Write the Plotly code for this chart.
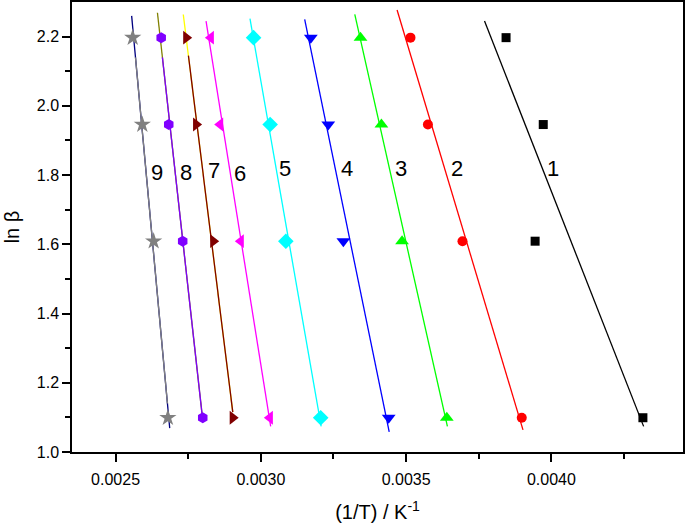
import numpy as np
import plotly.graph_objects as go

# ln(beta) rows (beta = 9, 7, 5, 3 K/min)
ln_beta = [2.197, 1.946, 1.609, 1.099]

series_names = ["1", "2", "3", "4", "5", "6", "7", "8", "9"]
x1 = [0.003844, 0.003972, 0.003944, 0.004315]
x2 = [0.003515, 0.003575, 0.003694, 0.003898]
x3 = [0.003343, 0.003415, 0.003486, 0.003640]
x4 = [0.003172, 0.003232, 0.003284, 0.003440]
x5 = [0.002975, 0.003032, 0.003086, 0.003206]
x6 = [0.002828, 0.002860, 0.002931, 0.003031]
x7 = [0.002743, 0.002777, 0.002836, 0.002903]
x8 = [0.002657, 0.002683, 0.002731, 0.002800]
x9 = [0.002559, 0.002592, 0.002631, 0.002680]
series_x = [x1, x2, x3, x4, x5, x6, x7, x8, x9]

colors = ["#000000", "#FF0000", "#00FF00", "#0000FF", "#00FFFF",
          "#FF00FF", "#800000", "#8000FF", "#808080"]
symbols = ["square", "circle", "triangle-up", "triangle-down", "diamond",
           "triangle-left", "triangle-right", "hexagon", "star"]
msizes = [9, 10, 12, 12, 12, 12, 12, 11, 13]

# fit-line extents in ln(beta)
fit_top = [2.245, 2.277, 2.264, 2.250, 2.252, 2.245, 2.145, 2.140, 2.140]
fit_bottom = [1.074, 1.064, 1.074, 1.058, 1.074, 1.074, 1.115, 1.100, 1.140]
# secondary fit lines (visible only at their ends) for series 7, 8, 9
alt_index = [6, 7, 8]
alt_colors = ["#FFFF00", "#808000", "#000080"]
alt_top = [2.264, 2.269, 2.260]
alt_bottom = [1.115, 1.100, 1.069]

label_x = [0.004006, 0.003676, 0.003484, 0.003297, 0.003082, 0.002928, 0.002840, 0.002742, 0.002643]
label_y = [1.818, 1.818, 1.820, 1.818, 1.818, 1.805, 1.813, 1.808, 1.808]

FONT = "Liberation Sans, Arial, sans-serif"
fig = go.Figure()

fits = []
for xs in series_x:
    m, b = np.polyfit(xs, ln_beta, 1)
    fits.append((m, b))

def fit_line(i, ytop, ybot, color):
    m, b = fits[i]
    ys = np.array([ytop, ybot])
    xs = (ys - b) / m
    fig.add_trace(go.Scatter(x=xs, y=ys, mode="lines",
                             line=dict(color=color, width=1.3),
                             showlegend=False, hoverinfo="skip"))

for k, i in enumerate(alt_index):
    fit_line(i, alt_top[k], alt_bottom[k], alt_colors[k])
for i in range(len(series_x)):
    fit_line(i, fit_top[i], fit_bottom[i], colors[i])

for i, xs in enumerate(series_x):
    fig.add_trace(go.Scatter(x=xs, y=ln_beta, mode="markers", name=series_names[i],
                             marker=dict(symbol=symbols[i], size=msizes[i], color=colors[i],
                                         line=dict(width=0)),
                             showlegend=False))

for i in range(len(series_names)):
    fig.add_annotation(x=label_x[i], y=label_y[i], text=series_names[i], showarrow=False,
                       font=dict(family=FONT, size=22, color="#000000"))

axis_common = dict(showline=True, linecolor="#000000", linewidth=1.5, mirror=True,
                   ticks="outside", ticklen=8, tickwidth=1.5, tickcolor="#000000",
                   showgrid=False, zeroline=False,
                   tickfont=dict(family=FONT, size=16, color="#000000"))

fig.update_xaxes(range=[0.00235, 0.004453], tickvals=[0.0025, 0.0030, 0.0035, 0.0040],
                 tickformat=".4f",
                 minor=dict(tickvals=[0.00275, 0.00325, 0.00375, 0.00425], ticklen=5,
                            tickwidth=1.5, tickcolor="#000000", ticks="outside"),
                 title=dict(text="(1/T) / K<sup>-1</sup>", font=dict(family=FONT, size=20, color="#000000"),
                            standoff=18),
                 ticklabelstandoff=4,
                 **axis_common)
fig.update_yaxes(range=[1.0, 2.3], tickvals=[1.0, 1.2, 1.4, 1.6, 1.8, 2.0, 2.2],
                 tickformat=".1f",
                 minor=dict(tickvals=[1.1, 1.3, 1.5, 1.7, 1.9, 2.1], ticklen=5,
                            tickwidth=1.5, tickcolor="#000000", ticks="outside"),
                 title=dict(text="ln β", font=dict(family=FONT, size=20, color="#000000"),
                            standoff=12),
                 **axis_common)

fig.update_layout(width=685, height=526, margin=dict(l=72, r=0, t=2, b=74),
                  plot_bgcolor="#FFFFFF", paper_bgcolor="#FFFFFF")

fig.write_html("out.html", config={"displayModeBar": False},
               post_script="document.body.style.margin='0px';")
